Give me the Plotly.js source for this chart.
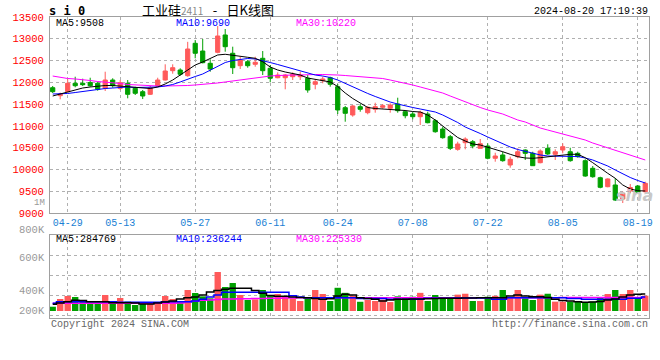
<!DOCTYPE html>
<html><head><meta charset="utf-8">
<script src="https://cdn.plot.ly/plotly-3.0.1.min.js"></script>
<style>html,body{margin:0;padding:0;background:#fff;}#c{width:660px;height:360px;}</style>
</head><body><div id="c"></div><script>
const dates = ['04-25','04-26','04-29','04-30','05-06','05-07','05-08','05-09','05-10','05-13','05-14','05-15','05-16','05-17','05-20','05-21','05-22','05-23','05-24','05-27','05-28','05-29','05-30','05-31','06-03','06-04','06-05','06-06','06-07','06-11','06-12','06-13','06-14','06-17','06-18','06-19','06-20','06-21','06-24','06-25','06-26','06-27','06-28','07-01','07-02','07-03','07-04','07-05','07-08','07-09','07-10','07-11','07-12','07-15','07-16','07-17','07-18','07-19','07-22','07-23','07-24','07-25','07-26','07-29','07-30','07-31','08-01','08-02','08-05','08-06','08-07','08-08','08-09','08-12','08-13','08-14','08-15','08-16','08-19','08-20'];
const tickLabels = ['04-29','05-13','05-27','06-11','06-24','07-08','07-22','08-05','08-19'];
const open  = [11877,11693,11785,11978,11978,11994,11978,11863,12053,11863,11978,11863,11785,11725,11916,12053,12267,12283,12152,12896,12719,12437,12689,13087,12667,12382,12474,12414,12552,12322,12106,12106,12129,12129,12093,11955,12037,12106,11900,11418,11250,11441,11303,11381,11427,11404,11502,11326,11273,11211,11273,11119,10928,10752,10462,10614,10637,10485,10538,10256,10332,10102,10293,10446,10370,10155,10485,10348,10446,10407,10370,10201,10026,9810,9604,9643,9321,9505,9620,9489];
const high  = [11916,11762,12070,12129,12083,12106,12014,12244,12093,12053,12053,11900,11824,11916,12106,12414,12414,12322,12930,12972,12995,12529,13293,13224,12818,12588,12513,12588,12719,12398,12230,12191,12230,12244,12168,12077,12129,12129,11962,11457,11479,11502,11457,11532,11502,11518,11647,11365,11326,11349,11326,11151,10981,10791,10637,10738,10676,10699,10600,10384,10407,10293,10485,10462,10407,10462,10577,10462,10600,10499,10407,10233,10079,9833,9797,9797,9489,9666,9643,9718];
const low   = [11755,11610,11771,11886,11916,11900,11808,11801,11877,11824,11633,11709,11617,11709,11900,12040,12198,12152,12129,12552,12437,12244,12667,12703,12191,12306,12336,12359,12168,12001,12093,11840,12053,12053,11762,11840,11978,11900,11273,11096,11211,11326,11266,11303,11395,11303,11303,11174,11151,11020,11059,10843,10706,10446,10430,10462,10485,10485,10233,10178,10178,10040,10256,10217,10079,10141,10332,10217,10370,10178,10270,9833,9810,9567,9590,9275,9229,9452,9452,9452];
const close = [11785,11732,11978,11923,11946,11923,11840,12053,11923,11992,11725,11748,11686,11877,12053,12260,12336,12185,12765,12667,12451,12306,13064,12818,12336,12513,12382,12460,12267,12093,12168,12168,12185,12168,11824,12014,12077,11955,11365,11289,11457,11381,11427,11441,11463,11479,11349,11234,11211,11312,11073,10866,10729,10485,10584,10699,10538,10591,10256,10309,10201,10233,10407,10370,10086,10424,10355,10407,10522,10201,10293,9849,9833,9590,9781,9298,9452,9585,9466,9682];
const ma5  = [11686,11732,11785,11824,11870,11893,11916,11927,11927,11916,11904,11886,11870,11858,11893,11962,12053,12168,12283,12398,12467,12547,12628,12644,12616,12593,12575,12552,12474,12352,12283,12237,12203,12168,12099,12070,12042,12008,11904,11755,11629,11518,11422,11399,11388,11388,11376,11353,11330,11319,11250,11135,10997,10860,10733,10653,10584,10561,10515,10462,10407,10348,10293,10263,10256,10270,10293,10316,10332,10348,10348,10270,10155,10026,9911,9797,9643,9551,9512,9505];
const ma10 = [11732,11732,11744,11766,11789,11824,11847,11858,11870,11881,11893,11881,11881,11881,11893,11916,11950,12008,12077,12134,12191,12283,12375,12455,12501,12524,12547,12536,12501,12455,12409,12363,12318,12260,12214,12168,12145,12111,12053,11973,11893,11824,11744,11675,11606,11548,11502,11457,11422,11388,11353,11319,11250,11169,11078,10974,10905,10825,10745,10664,10595,10515,10458,10412,10366,10332,10309,10309,10309,10297,10297,10263,10217,10148,10079,9987,9895,9815,9746,9689];
const ma30 = [12145,12111,12088,12077,12065,12042,12019,12008,11985,11973,11950,11939,11927,11916,11916,11916,11916,11916,11927,11939,11950,11962,11985,12008,12031,12065,12088,12111,12134,12145,12157,12168,12168,12168,12180,12180,12180,12180,12168,12157,12145,12134,12122,12111,12088,12053,12019,11985,11939,11893,11847,11812,11755,11686,11617,11548,11479,11422,11365,11319,11273,11204,11135,11089,11020,10951,10905,10860,10814,10768,10722,10676,10607,10550,10492,10435,10377,10320,10263,10217];
const volume = [72000,202000,252000,235000,157000,140000,140000,269000,129000,218000,157000,101000,129000,146000,146000,252000,202000,146000,353000,302000,246000,213000,655000,403000,470000,269000,185000,196000,353000,269000,286000,252000,213000,168000,213000,353000,286000,168000,390000,305000,255000,155000,185000,168000,190000,150000,246000,224000,240000,305000,168000,269000,224000,213000,275000,290000,168000,168000,240000,255000,353000,230000,353000,213000,185000,275000,290000,157000,157000,157000,168000,146000,157000,224000,286000,353000,286000,353000,213000,257000];
const volMa5  = [113000,134000,156000,180000,176000,156000,156000,156000,139000,139000,139000,134000,118000,118000,134000,151000,168000,202000,223000,235000,269000,319000,344000,365000,381000,381000,381000,344000,297000,260000,247000,247000,235000,227000,223000,210000,197000,207000,252000,281000,269000,223000,210000,197000,168000,185000,197000,197000,202000,202000,205000,210000,213000,213000,213000,218000,218000,223000,223000,223000,223000,252000,269000,252000,240000,240000,227000,197000,176000,168000,156000,146000,151000,160000,185000,202000,235000,269000,281000,285000];
const volMa10 = [129000,156000,156000,156000,156000,156000,156000,156000,156000,146000,146000,146000,146000,146000,146000,156000,156000,156000,156000,170000,197000,235000,269000,314000,314000,314000,314000,314000,314000,314000,314000,314000,257000,235000,223000,223000,223000,223000,223000,223000,223000,210000,210000,210000,210000,197000,197000,197000,197000,197000,213000,213000,213000,213000,218000,218000,218000,218000,218000,197000,197000,223000,223000,223000,223000,223000,223000,223000,223000,210000,210000,197000,197000,197000,197000,197000,197000,213000,213000,236000];
const volMa30 = [129000,129000,130000,130000,130000,130000,130000,130000,130000,131000,131000,131000,131000,131000,131000,131000,132000,133000,150000,165000,180000,185000,195000,200000,203000,205000,207000,209000,211000,213000,215000,217000,219000,221000,222000,223000,223000,223000,223000,223000,223000,223000,223000,223000,223000,223000,223000,223000,223000,223000,224000,224000,224000,224000,224000,224000,224000,224000,224000,224000,224000,224000,224000,224000,224000,224000,224000,224000,225000,225000,225000,225000,225000,225000,225000,225000,225000,225000,225000,225000];

const idx = dates.map((d,i)=>i);
const tickIdx = tickLabels.map(t=>dates.indexOf(t));
const UP='#ff5a5a', DN='#00a000';
const volColors = close.map((c,i)=> c>=open[i] ? UP : DN);

const W=660,H=360;
const px = x=>x/W, py = y=>1-y/H;
const GRID='#b0b0b0', FRAME='#a0a0a0';
const MONO='Liberation Mono, DejaVu Sans Mono, monospace';

const traces = [
 {type:'candlestick', x:idx, open:open, high:high, low:low, close:close, xaxis:'x', yaxis:'y',
  increasing:{line:{color:UP,width:1}, fillcolor:UP}, decreasing:{line:{color:DN,width:1}, fillcolor:DN},
  whiskerwidth:0, hoverinfo:'skip'},
 {type:'scatter', mode:'lines', x:idx, y:ma30, line:{color:'#ff00ff',width:1}, xaxis:'x', yaxis:'y', hoverinfo:'skip'},
 {type:'scatter', mode:'lines', x:idx, y:ma10, line:{color:'#0000ff',width:1}, xaxis:'x', yaxis:'y', hoverinfo:'skip'},
 {type:'scatter', mode:'lines', x:idx, y:ma5, line:{color:'#000000',width:1}, xaxis:'x', yaxis:'y', hoverinfo:'skip'},
 {type:'bar', x:idx, y:volume, marker:{color:volColors, line:{width:0}}, width:0.85, xaxis:'x2', yaxis:'y2', hoverinfo:'skip'},
 {type:'scatter', mode:'lines', x:idx, y:volMa30, line:{color:'#ff00ff',width:1.5, shape:'hvh'}, xaxis:'x2', yaxis:'y2', hoverinfo:'skip'},
 {type:'scatter', mode:'lines', x:idx, y:volMa10, line:{color:'#0000ff',width:1.5, shape:'hvh'}, xaxis:'x2', yaxis:'y2', hoverinfo:'skip'},
 {type:'scatter', mode:'lines', x:idx, y:volMa5, line:{color:'#000000',width:1.5, shape:'hvh'}, xaxis:'x2', yaxis:'y2', hoverinfo:'skip'}
];

function ann(text, x, y, color, size, anchor, extra){
  return Object.assign({text:text, x:px(x), y:py(y), xref:'paper', yref:'paper', showarrow:false,
    xanchor:anchor||'left', yanchor:'middle', font:{family:MONO, size:size||10, color:color||'#000'}, borderpad:0}, extra||{});
}

const annotations = [
  ann('s i 0', 48, 11, '#000', 12, 'left', {font:{family:'DejaVu Sans Mono', size:12, color:'#000', weight:'bold'}}),
  ann('工业硅<span style="font-size:10px;color:#888">2411</span> &#8194;-&#8194; 日K线图', 141, 9, '#000', 13, 'left', {font:{family:'Noto Sans CJK SC', size:13, color:'#000'}}),
  ann('2024-08-20 17:19:39', 649, 11, '#000', 10, 'right'),
  ann('MA5:9508', 55, 24, '#000', 10),
  ann('MA10:9690', 175, 24, '#0000ff', 10),
  ann('MA30:10220', 295, 24, '#ff00ff', 10),
  ann('MA5:284769', 55, 239, '#000', 10),
  ann('MA10:236244', 175, 239, '#0000ff', 10),
  ann('MA30:225330', 295, 239, '#ff00ff', 10),
  ann('1M', 46, 202.5, '#999', 9, 'right'),
  ann('800K', 46, 230, '#999', 10.5, 'right'),
  ann('600K', 46, 258, '#999', 10.5, 'right'),
  ann('400K', 46, 291, '#999', 10.5, 'right'),
  ann('200K', 46, 311, '#999', 10.5, 'right'),
  ann('Copyright 2024 SINA.COM', 50, 324, '#666', 10, 'left'),
  ann('http://finance.sina.com.cn', 649, 324, '#666', 10, 'right'),
  ann('<i><b>sina</b></i>', 634, 195, '#c8c8c8', 16, 'center', {font:{family:'DejaVu Sans', size:16, color:'#c8c8c8'}})
];

const xcommon = {domain:[px(50),px(649)], range:[-0.36,79.5], tickvals:tickIdx, ticktext:tickLabels,
  showgrid:true, gridcolor:GRID, griddash:'dot', gridwidth:1, showline:true, mirror:true, linecolor:FRAME, linewidth:1,
  zeroline:false, ticks:'', fixedrange:true, rangeslider:{visible:false}};

const layout = {
  width:W, height:H, margin:{l:0,r:0,t:0,b:0}, paper_bgcolor:'#fff', plot_bgcolor:'#fff', showlegend:false,
  boxgap:0.2, bargap:0.1, hovermode:false,
  xaxis:Object.assign({}, xcommon, {anchor:'y', showticklabels:true, tickfont:{family:MONO, size:10, color:'#1a7fd4'}}),
  yaxis:{domain:[py(213),py(17)], range:[9000,13500], tick0:9000, dtick:500, tickformat:'d',
    tickfont:{family:MONO, size:10.5, color:'#ff0000'}, showgrid:true, gridcolor:GRID, griddash:'dot',
    showline:true, mirror:true, linecolor:FRAME, linewidth:1, zeroline:false, ticks:'', ticklabelstandoff:3, fixedrange:true},
  xaxis2:Object.assign({}, xcommon, {anchor:'y2', showticklabels:false}),
  yaxis2:{domain:[py(318),py(235)], range:[-117600,1276800], tick0:268800, dtick:336000, showticklabels:false,
    showgrid:true, gridcolor:GRID, griddash:'dot', showline:true, mirror:true, linecolor:FRAME, linewidth:1, zeroline:false, ticks:'', fixedrange:true},
  annotations: annotations
};

Plotly.newPlot('c', traces, layout, {staticPlot:true, displayModeBar:false});
</script></body></html>
